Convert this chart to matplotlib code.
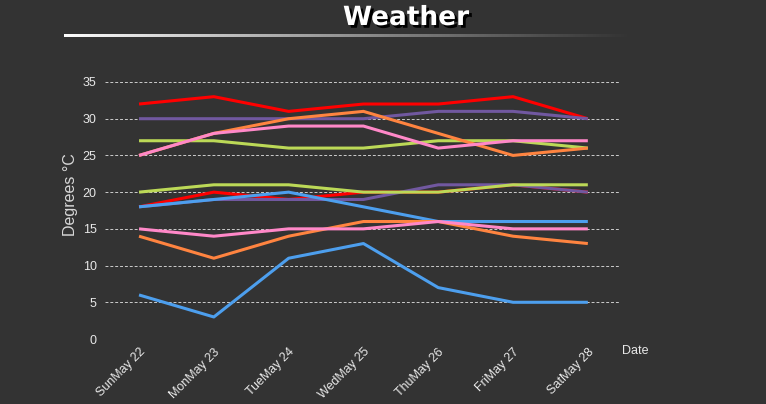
import numpy as np
import matplotlib.pyplot as plt
import matplotlib.patheffects as pe

plt.rcParams['font.family'] = ['Liberation Sans', 'DejaVu Sans']

# Donnees (max / min par serie)
dates = ['SunMay 22', 'MonMay 23', 'TueMay 24', 'WedMay 25', 'ThuMay 26', 'FriMay 27', 'SatMay 28']

red_high = [32, 33, 31, 32, 32, 33, 30]
red_low = [18, 20, 19, 20, 20, 21, 20]
purple_high = [30, 30, 30, 30, 31, 31, 30]
purple_low = [18, 19, 19, 19, 21, 21, 20]
green_high = [27, 27, 26, 26, 27, 27, 26]
green_low = [20, 21, 21, 20, 20, 21, 21]
blue_high = [18, 19, 20, 18, 16, 16, 16]
blue_low = [6, 3, 11, 13, 7, 5, 5]
orange_high = [25, 28, 30, 31, 28, 25, 26]
orange_low = [14, 11, 14, 16, 16, 14, 13]
pink_high = [25, 28, 29, 29, 26, 27, 27]
pink_low = [15, 14, 15, 15, 16, 15, 15]

series = [
    (red_high, red_low, '#ff0000'),
    (purple_high, purple_low, '#7158a0'),
    (green_high, green_low, '#bcd957'),
    (blue_high, blue_low, '#4d9fee'),
    (orange_high, orange_low, '#ff8440'),
    (pink_high, pink_low, '#ff88c8'),
]

bg = '#333333'
fig = plt.figure(figsize=(7.66, 4.04), dpi=100, facecolor=bg)
ax = fig.add_axes([105 / 766, 1 - 339 / 404, 515 / 766, 257 / 404])
ax.set_facecolor(bg)

x = np.arange(len(dates))
for high, low, col in series:
    ax.plot(x, high, color=col, lw=2.2, solid_capstyle='butt', zorder=3)
    ax.plot(x, low, color=col, lw=2.2, solid_capstyle='butt', zorder=3)

ax.set_xlim(-0.455, 6.43)
ax.set_ylim(0, 35)
ax.set_yticks(range(0, 36, 5))
ax.set_xticks(x)
ax.set_xticklabels(dates, rotation=45, ha='right', va='top', rotation_mode='anchor')
ax.grid(axis='y', color='#cccccc', linestyle=(0, (3, 2)), linewidth=0.7)
ax.grid(axis='x', visible=False)
for s in ax.spines.values():
    s.set_visible(False)
ax.tick_params(length=0, colors='#e8e8e8', labelsize=9)
ax.tick_params(axis='y', pad=6, labelsize=9)
ax.tick_params(axis='x', pad=5)

fig.text(71 / 766, 1 - 195 / 404, 'Degrees °C', color='#d8d8d8', fontsize=11.5,
         rotation=90, ha='center', va='center')
fig.text(622 / 766, 1 - 351 / 404, 'Date', color='#e8e8e8', fontsize=9, va='center', ha='left')

# titre avec ombre
fig.text(406 / 766, 1 - 18 / 404, 'Weather', color='white', fontsize=19, fontweight='heavy',
         family='DejaVu Sans', ha='center', va='center',
         path_effects=[pe.withSimplePatchShadow(offset=(2, -2), shadow_rgbFace='black', alpha=1)])

# ligne degradee sous le titre
lax = fig.add_axes([64 / 766, 1 - 37 / 404, (635 - 64) / 766, 3 / 404])
lax.axis('off')
grad = np.zeros((1, 300, 4))
grad[..., :3] = 1.0
grad[..., 3] = np.linspace(1, 0, 300) ** 1.1
lax.imshow(grad, aspect='auto', extent=[0, 1, 0, 1], interpolation='bilinear')

fig.savefig('out.png', dpi=100, facecolor=bg)
